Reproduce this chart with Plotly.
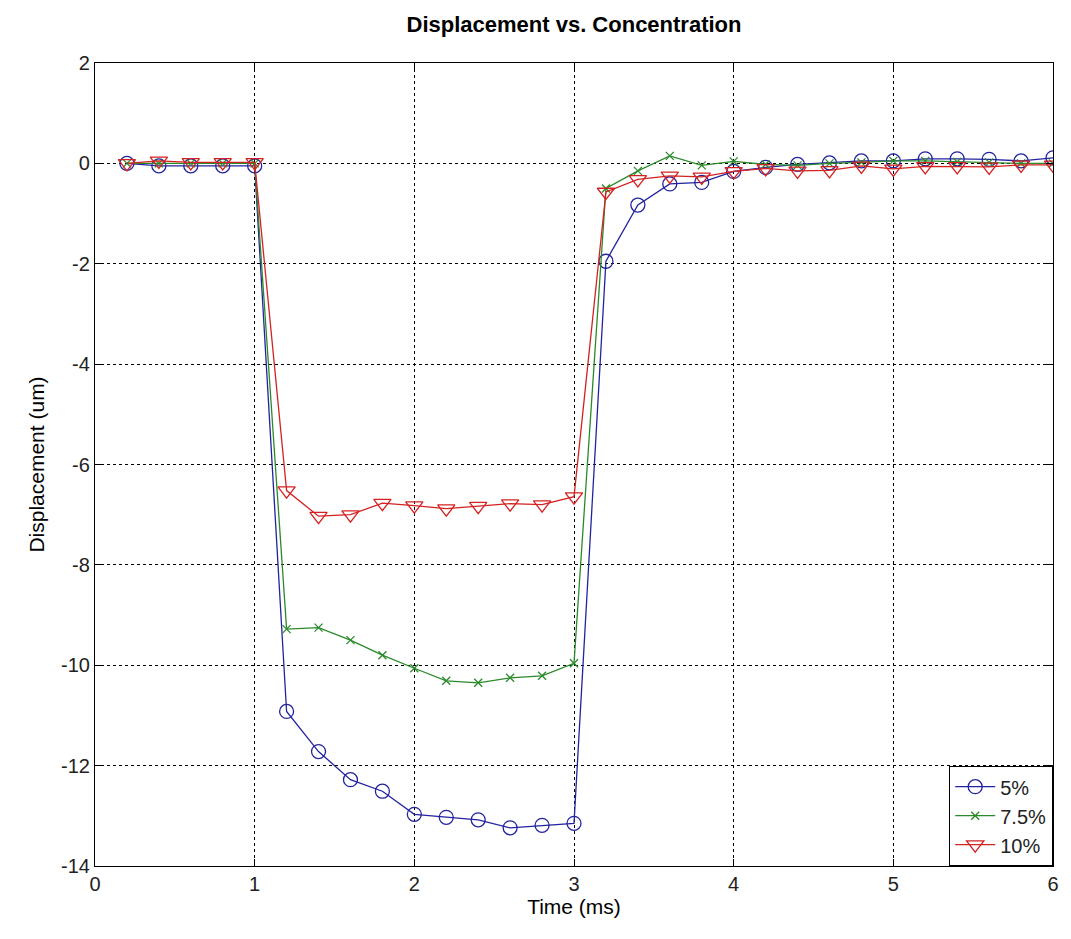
import plotly.graph_objects as go

time_ms = [0.2, 0.4, 0.6, 0.8, 1.0, 1.2, 1.4, 1.6, 1.8, 2.0,
           2.2, 2.4, 2.6, 2.8, 3.0, 3.2, 3.4, 3.6, 3.8, 4.0,
           4.2, 4.4, 4.6, 4.8, 5.0, 5.2, 5.4, 5.6, 5.8, 6.0]

disp_5 = [0.0, -0.05, -0.05, -0.05, -0.05, -10.92, -11.72, -12.28, -12.51, -12.97,
          -13.03, -13.08, -13.24, -13.19, -13.15, -1.95, -0.83, -0.41, -0.38, -0.16,
          -0.08, -0.02, 0.01, 0.05, 0.05, 0.09, 0.09, 0.08, 0.05, 0.11]

disp_75 = [0.0, 0.0, 0.0, 0.0, 0.0, -9.28, -9.25, -9.5, -9.8, -10.06,
           -10.31, -10.35, -10.25, -10.21, -9.96, -0.5, -0.15, 0.15, -0.04, 0.04,
           -0.02, -0.04, 0.0, 0.02, 0.05, 0.05, 0.03, 0.02, 0.0, 0.0]

disp_10 = [0.0, 0.05, 0.02, 0.02, 0.02, -6.52, -7.03, -7.0, -6.77, -6.82,
           -6.88, -6.83, -6.78, -6.8, -6.64, -0.57, -0.32, -0.25, -0.27, -0.16,
           -0.1, -0.15, -0.14, -0.05, -0.11, -0.06, -0.06, -0.07, -0.03, -0.03]

series_names = ["5%", "7.5%", "10%"]

x_ticks = [0, 1, 2, 3, 4, 5, 6]
y_ticks = [2, 0, -2, -4, -6, -8, -10, -12, -14]

fig = go.Figure()
fig.add_trace(go.Scatter(
    x=time_ms, y=disp_5, name=series_names[0], mode="lines+markers",
    line=dict(color="#2323a0", width=1.3),
    marker=dict(symbol="circle-open", size=14, color="#2323a0", line=dict(width=1.3)),
))
fig.add_trace(go.Scatter(
    x=time_ms, y=disp_75, name=series_names[1], mode="lines+markers",
    line=dict(color="#2a8a2a", width=1.3),
    marker=dict(symbol="x-thin-open", size=8, color="#2a8a2a", line=dict(width=1.3, color="#2a8a2a")),
))
fig.add_trace(go.Scatter(
    x=time_ms, y=disp_10, name=series_names[2], mode="lines+markers",
    line=dict(color="#d42222", width=1.3),
    marker=dict(symbol="triangle-down-open", size=15, color="#d42222", line=dict(width=1.3)),
))

tick_font = dict(family="Liberation Sans, Arial, sans-serif", size=20, color="#222222")
axis_common = dict(
    showline=True, linecolor="black", linewidth=1.2, mirror="ticks",
    ticks="inside", ticklen=7, tickcolor="black",
    showgrid=True, gridcolor="black", griddash="dot", gridwidth=1,
    zeroline=False,
    tickfont=tick_font,
)

fig.update_xaxes(
    range=[0, 6], tickvals=x_ticks, ticktext=[str(v) for v in x_ticks],
    title=dict(text="Time (ms)", font=dict(family="Liberation Sans, Arial, sans-serif", size=21, color="black"), standoff=4),
    **axis_common,
)
fig.update_yaxes(
    range=[-14, 2], tickvals=y_ticks, ticktext=[str(v) for v in y_ticks],
    title=dict(text="Displacement (um)", font=dict(family="Liberation Sans, Arial, sans-serif", size=21, color="black"), standoff=10),
    **axis_common,
)

fig.update_layout(
    width=1071, height=939,
    margin=dict(l=95, r=18, t=63, b=73),
    paper_bgcolor="white", plot_bgcolor="white",
    title=dict(
        text="<b>Displacement vs. Concentration</b>",
        x=0.5, xref="paper", xanchor="center", y=0.982, yanchor="top",
        font=dict(family="Liberation Sans, Arial, sans-serif", size=22, color="black"),
    ),
    showlegend=True,
    legend=dict(
        x=1.0, y=0.0, xanchor="right", yanchor="bottom",
        bgcolor="white", bordercolor="black", borderwidth=1.2,
        font=dict(family="Liberation Sans, Arial, sans-serif", size=20, color="#222222"),
        itemwidth=40, tracegroupgap=2,
    ),
)

fig.write_html("out.html")
